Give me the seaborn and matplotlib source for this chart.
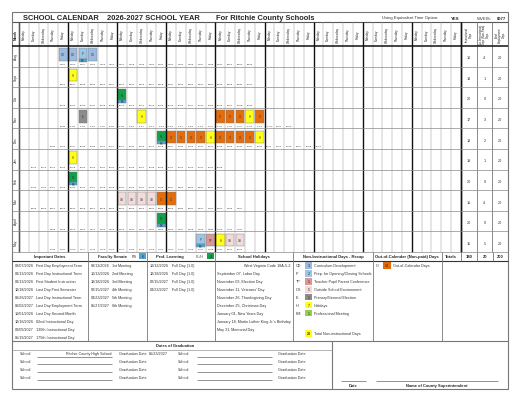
import matplotlib
matplotlib.use("Agg")
import matplotlib.pyplot as plt
from matplotlib.patches import Rectangle
import seaborn as sns
import pandas as pd

sns.set_theme(style="white")
plt.rcParams['font.family'] = ['Liberation Sans', 'DejaVu Sans']

# ---------------- data ----------------
months = ["Aug", "Sept", "Oct", "Nov", "Dec", "Jan", "Feb", "Mar", "April", "May"]
row_start = ["2026-08-07", "2026-09-04", "2026-10-02", "2026-10-30", "2026-12-03",
             "2027-01-12", "2027-02-09", "2027-03-09", "2027-04-08", "2027-05-06"]
row_end = ["2026-09-03", "2026-10-01", "2026-10-29", "2026-12-02", "2027-01-11",
           "2027-02-08", "2027-03-08", "2027-04-07", "2027-05-05", "2027-06-02"]
day_codes = {
    "2026-08-07": "CD", "2026-08-10": "CD", "2026-08-11": "P|PS", "2026-08-12": "CD",
    "2026-09-07": "H", "2026-10-12": "PL|PS",
    "2026-11-03": "E", "2026-11-11": "H", "2026-11-23": "O", "2026-11-24": "O",
    "2026-11-25": "O", "2026-11-26": "H", "2026-11-27": "O",
    "2026-12-18": "PL|PS", "2026-12-21": "O", "2026-12-22": "O", "2026-12-23": "O",
    "2026-12-24": "O", "2026-12-25": "H", "2026-12-28": "O", "2026-12-29": "O",
    "2026-12-30": "O", "2026-12-31": "O", "2027-01-01": "H",
    "2027-01-18": "H", "2027-02-15": "PL|PS",
    "2027-03-22": "OS", "2027-03-23": "OS", "2027-03-24": "OS", "2027-03-25": "OS",
    "2027-03-26": "O", "2027-03-29": "O",
    "2027-04-23": "PL|PS",
    "2027-05-27": "P|PS", "2027-05-28": "TP", "2027-05-31": "H",
    "2027-06-01": "OS", "2027-06-02": "OS",
}
instr_days = [16, 19, 20, 17, 18, 19, 20, 16, 20, 15]
noninstr_days = [4, 1, 0, 3, 2, 1, 0, 4, 0, 5]
employ_days = [20, 20, 20, 20, 20, 20, 20, 20, 20, 20]
totals = [180, 20, 200]
weekdays = ["Monday", "Tuesday", "Wednesday", "Thursday", "Friday"]

important_dates = [("08/07/2026", "First Day Employment Term"), ("08/13/2026", "First Day Instructional Term"),
                   ("08/13/2026", "First Student Instruction"), ("12/18/2026", "Last Day First Semester"),
                   ("06/26/2027", "Last Day Instructional Term"), ("06/02/2027", "Last Day Employment Term"),
                   ("10/01/2026", "Last Day Second Month"), ("12/16/2026", "82nd Instructional Day"),
                   ("03/09/2027", "130th Instructional Day"), ("05/19/2027", "175th Instructional Day")]
faculty_senate = [("08/11/2026", "1st Meeting"), ("10/13/2026", "2nd Meeting"), ("12/18/2026", "3rd Meeting"),
                  ("02/15/2027", "4th Meeting"), ("04/23/2027", "5th Meeting"), ("05/27/2027", "6th Meeting")]
prof_learning = [("10/12/2026", "Full Day (1.0)"), ("12/18/2026", "Full Day (1.0)"),
                 ("02/15/2027", "Full Day (1.0)"), ("04/23/2027", "Full Day (1.0)")]
holidays = ["West Virginia Code 18A-5-2", "September 07, Labor Day", "November 03, Election Day",
            "November 11, Veterans' Day", "November 26, Thanksgiving Day", "December 25, Christmas Day",
            "January 01, New Years Day", "January 18, Martin Luther King Jr.'s Birthday", "May 31, Memorial Day"]
recap_codes = ["CD", "P", "TP", "OS", "E", "H", "PM"]
recap_counts = [3, 2, 1, 5, 1, 7, 1]
recap_names = ["Curriculum Development", "Prep. for Opening/Closing Schools", "Teacher Pupil Parent Conference",
               "Outside School Environment", "Primary/General Election", "Holidays", "Professional Meeting"]
total_noninstr = 20
out_of_calendar = 14

colors = {"CD": "#9dbbe0", "P": "#9dc6e6", "PS": "#4ea6d4", "PL": "#12a14a", "H": "#ffff1a",
          "E": "#8c8c8c", "O": "#e46c0a", "OS": "#f2dcdb", "TP": "#d99795", "PM": "#92d050"}

# ---------------- layout ----------------
fig = plt.figure(figsize=(5.2, 4.02), dpi=100)
ax = fig.add_axes([0, 0, 1, 1])
ax.set_xlim(0, 520); ax.set_ylim(402, 0); ax.axis("off")

L, R, T, B = 12, 508, 13, 390
X0, CW = 19.0, 9.82
Y0, RH = 47.0, 20.6
SX = X0 + 45 * CW
SW = (R - SX) / 3
def line(x1, y1, x2, y2, lw=0.4, c="#888888"):
    ax.plot([x1, x2], [y1, y2], color=c, lw=lw, solid_capstyle="butt")

ax.add_patch(Rectangle((L, T), R - L, B - T, fill=False, lw=0.8, ec="#777777"))
# title
ax.text(23, 18.5, "SCHOOL CALENDAR", fontsize=5.4, weight="bold", va="center")
ax.text(107, 18.5, "2026-2027 SCHOOL YEAR", fontsize=5.4, weight="bold", va="center")
ax.text(216, 18.5, "For Ritchie County Schools", fontsize=5.4, weight="bold", va="center")
ax.text(382, 18.5, "Using Equivalent Time Option:", fontsize=3.1, va="center", color="#333")
ax.text(460, 18.5, "YES", fontsize=3.1, va="center", weight="bold", ha="right")
ax.text(477, 18.5, "WVEIS:", fontsize=3.1, va="center", color="#333")
ax.text(506, 18.5, "0077", fontsize=3.1, va="center", weight="bold", ha="right")
line(L, 23, R, 23, 0.8, "#555")

# header
ax.text((L + X0) / 2, 35, "Month", rotation=90, fontsize=2.4, weight="bold", ha="center", va="center")
for c in range(45):
    ax.text(X0 + CW * (c + 0.5), 35, weekdays[c % 5], rotation=90, fontsize=2.2, ha="center", va="center")
sum_heads = ["Instructional\nDays", "Non-Instructional\nDays (Non-Paid)\nDays", "Total\nEmployment\nDays"]
for i, h in enumerate(sum_heads):
    ax.text(SX + SW * (i + 0.5), 35, h, rotation=90, fontsize=2.0, ha="center", va="center", linespacing=0.9)

# grid
for c in range(46):
    thick = c % 5 == 0
    line(X0 + CW * c, 23, X0 + CW * c, Y0 + RH * 10, 1.0 if thick else 0.35, "#111" if thick else "#999")
line(L, 23, L, 255); line(X0, 23, X0, Y0 + 10 * RH, 0.5, "#777")
for i in range(4):
    line(SX + SW * i, 23, SX + SW * i, Y0 + 10 * RH, 0.6 if i else 1.0, "#777" if i else "#111")
for r in range(11):
    line(L, Y0 + RH * r, R, Y0 + RH * r, 1.1 if r == 0 else 0.5, "#111" if r == 0 else "#888")

# calendar rows
for r, m in enumerate(months):
    y = Y0 + RH * r
    ax.text((L + X0) / 2, y + RH / 2, m, rotation=90, fontsize=2.4, ha="center", va="center")
    days = pd.bdate_range(row_start[r], row_end[r])
    c0 = days[0].weekday()
    for k, d in enumerate(days):
        wk = (d - days[0]).days // 7 + (1 if d.weekday() < c0 else 0)
        c = wk * 5 + d.weekday()
        x = X0 + CW * c
        ax.text(x + CW / 2, y + 17.3, d.strftime("%m/%d"), fontsize=1.7, ha="center", va="center", color="#222")
        code = day_codes.get(d.strftime("%Y-%m-%d"))
        if code:
            parts = code.split("|")
            main = parts[0]
            h = 10.5 if len(parts) > 1 else 12.5
            ax.add_patch(Rectangle((x + 0.6, y + 2.2), CW - 1.2, h, fc=colors[main], ec="#777", lw=0.3))
            ax.text(x + CW / 2, y + 2.2 + h / 2, main, fontsize=2.0, ha="center", va="center", color="#333")
            if len(parts) > 1:
                ax.add_patch(Rectangle((x + 0.6, y + 12.7), CW - 1.2, 3.0, fc=colors["PS"], ec="#777", lw=0.3))
                ax.text(x + CW / 2, y + 14.2, "PS", fontsize=1.8, ha="center", va="center", color="#123")
    for i, v in enumerate([instr_days[r], noninstr_days[r], employ_days[r]]):
        ax.text(SX + SW * (i + 0.5), y + RH / 2 + 1, str(v), fontsize=2.7, ha="center", va="center", color="#333")

# ---------------- lower table ----------------
TY0, TY1, TY2 = Y0 + 10 * RH, 262, 342
cols = [L, 88, 147, 215, 293, 373, 442, 461, 477, 493, R]
line(L, TY1, R, TY1, 0.8, "#333")
line(L, TY2, R, TY2, 0.8, "#777")
for x in cols[1:7]:
    line(x, TY0, x, TY2, 0.6, "#777")
for x in cols[7:10]:
    line(x, TY0, x, TY1, 0.6, "#777")
hy = (TY0 + TY1) / 2
ax.text(50, hy, "Important Dates", fontsize=3.0, weight="bold", ha="center", va="center")
ax.text(112, hy, "Faculty Senate", fontsize=3.0, weight="bold", ha="center", va="center")
ax.text(134, hy, "FS", fontsize=2.8, ha="center", va="center")
ax.add_patch(Rectangle((139, TY0 + 1.2), 7, 5.5, fc=colors["PS"], ec="none"))
ax.text(142.5, hy, "6", fontsize=2.6, ha="center", va="center")
ax.text(170, hy, "Prof. Learning", fontsize=3.0, weight="bold", ha="center", va="center")
ax.text(200, hy, "PL/H", fontsize=2.6, ha="center", va="center", color="#444")
ax.add_patch(Rectangle((207, TY0 + 1.2), 7, 5.5, fc=colors["PL"], ec="none"))
ax.text(210.5, hy, "4", fontsize=2.6, ha="center", va="center")
ax.text(254, hy, "School Holidays", fontsize=3.0, weight="bold", ha="center", va="center")
ax.text(333, hy, "Non-Instructional Days - Recap", fontsize=3.0, weight="bold", ha="center", va="center")
ax.text(407, hy, "Out-of-Calendar (Non-paid) Days", fontsize=3.0, weight="bold", ha="center", va="center")
ax.text(451, hy, "Totals", fontsize=3.0, weight="bold", ha="center", va="center")
for i, v in enumerate(totals):
    ax.text((cols[7 + i] + cols[8 + i]) / 2, hy, str(v), fontsize=3.0, weight="bold", ha="center", va="center")

ry = 266.5
for i, (d, t) in enumerate(important_dates):
    ax.text(15, ry + 7.9 * i, d, fontsize=2.7, va="center", color="#333")
    ax.text(36, ry + 7.9 * i, t, fontsize=2.7, va="center", color="#333")
for i, (d, t) in enumerate(faculty_senate):
    ax.text(91, ry + 7.9 * i, d, fontsize=2.7, va="center", color="#333")
    ax.text(112, ry + 7.9 * i, t, fontsize=2.7, va="center", color="#333")
for i, (d, t) in enumerate(prof_learning):
    ax.text(150, ry + 7.9 * i, d, fontsize=2.7, va="center", color="#333")
    ax.text(172, ry + 7.9 * i, t, fontsize=2.7, va="center", color="#333")
for i, t in enumerate(holidays):
    ax.text(290 if i == 0 else 217, ry + 7.9 * i, t, fontsize=2.7, va="center",
            ha="right" if i == 0 else "left", color="#333")
for i, (cd, n, nm) in enumerate(zip(recap_codes, recap_counts, recap_names)):
    yy = ry + 7.9 * i
    ax.text(296, yy, cd, fontsize=2.7, va="center", color="#333")
    ax.add_patch(Rectangle((305, yy - 3.3), 7, 6.6, fc=colors[cd], ec="none"))
    ax.text(308.5, yy, str(n), fontsize=2.6, ha="center", va="center")
    ax.text(314, yy, nm, fontsize=2.7, va="center", color="#333")
yy = ry + 7.9 * 8.6
ax.add_patch(Rectangle((305, yy - 3.3), 7, 6.6, fc=colors["H"], ec="none"))
ax.text(308.5, yy, str(total_noninstr), fontsize=2.6, ha="center", va="center", weight="bold")
ax.text(314, yy, "Total Non-instructional Days", fontsize=2.7, va="center", color="#333")
ax.text(376, ry, "O", fontsize=2.7, va="center", color="#333")
ax.add_patch(Rectangle((383, ry - 3.3), 8, 6.6, fc=colors["O"], ec="none"))
ax.text(387, ry, str(out_of_calendar), fontsize=2.6, ha="center", va="center")
ax.text(393, ry, "Out-of-Calendar Days", fontsize=2.7, va="center", color="#333")

# graduation
GX = 332
line(GX, TY2, GX, B, 0.8, "#777")
ax.text(175, 346.5, "Dates of Graduation", fontsize=2.9, weight="bold", ha="center", va="center")
line(L, 350.5, GX, 350.5, 0.5, "#999")
schools = ["Ritchie County High School", "", "", ""]
grad_dates = ["05/23/2027", "", "", ""]
for i in range(4):
    yy = 354.5 + 7.9 * i
    ax.text(20, yy, "School", fontsize=2.7, va="center", color="#333")
    line(37, yy + 3, 112, yy + 3, 0.5, "#666")
    ax.text(112, yy, schools[i], fontsize=2.7, va="center", ha="right", color="#333")
    ax.text(119, yy, "Graduation Date", fontsize=2.7, va="center", color="#333")
    ax.text(149, yy, grad_dates[i], fontsize=2.7, va="center", color="#333")
    ax.text(178, yy, "School", fontsize=2.7, va="center", color="#333")
    line(197, yy + 3, 272, yy + 3, 0.5, "#666")
    ax.text(278, yy, "Graduation Date", fontsize=2.7, va="center", color="#333")
line(341, 381.5, 366, 381.5, 0.5, "#666")
line(376, 381.5, 498, 381.5, 0.5, "#666")
ax.text(353.5, 386, "Date", fontsize=2.9, weight="bold", ha="center", va="center")
ax.text(437, 386, "Name of County Superintendent", fontsize=2.9, weight="bold", ha="center", va="center")

fig.savefig("out.png", dpi=100, facecolor="white")
